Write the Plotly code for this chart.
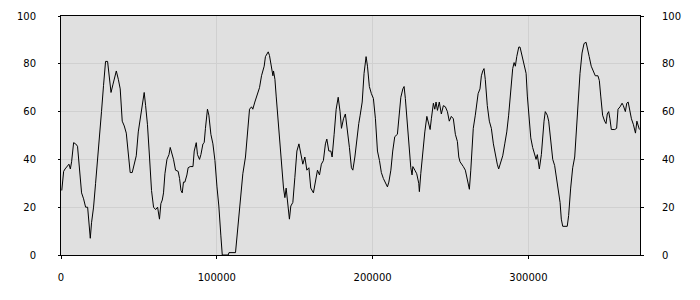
import plotly.graph_objects as go

x_vals = [500, 1700, 2600, 4200, 5100, 6000, 6800, 8100, 9400, 10600, 11900, 13200, 14500, 15800, 17100, 18000, 18800, 19600, 20900, 22200,
          23500, 24800, 26000, 27300, 28600, 29900, 30800, 31600, 32100, 33400, 34600, 35500, 36800, 38000, 39300, 40600, 41900, 43200, 44400, 45700,
          47000, 48300, 49600, 50900, 52100, 53400, 54300, 55500, 56800, 58100, 59400, 60700, 62000, 63200, 64100, 65000, 65800, 66700, 68000, 69300,
          70100, 70900, 72200, 73500, 75200, 76100, 77000, 77800, 78600, 79500, 80800, 81600, 82900, 84700, 85500, 86800, 87600, 88900, 89800, 91100,
          91900, 92700, 94000, 94900, 96200, 97500, 98800, 100100, 101300, 102600, 103500, 107300, 107800, 112000, 112900, 114200, 115500, 116700, 118400, 119700,
          121000, 122300, 123100, 124400, 125700, 127400, 128700, 130400, 131200, 133000, 133800, 135100, 136000, 136400, 137300, 138100, 138900, 140200, 141100, 141900,
          142800, 143700, 144500, 145300, 146600, 147500, 148800, 150100, 151400, 152700, 153900, 155200, 156500, 157800, 159100, 160300, 162000, 163300, 164600, 165900,
          167100, 168400, 169700, 170600, 171900, 173200, 174000, 175300, 176600, 177900, 179100, 180000, 181300, 182500, 183800, 185100, 186400, 187300, 188600, 189900,
          191100, 192000, 193300, 194500, 195800, 196700, 197900, 199200, 200500, 201800, 203100, 204400, 205600, 206900, 208200, 209500, 210400, 211700, 212900, 214200,
          215900, 216800, 218100, 219400, 220200, 221000, 222300, 223600, 224500, 225300, 225800, 227100, 228300, 229600, 230000, 230900, 232200, 233500, 234800, 236000,
          236900, 237700, 239000, 239900, 240700, 241600, 242800, 244100, 245400, 246700, 248000, 249200, 250500, 251800, 253100, 254400, 255300, 256100, 257400, 258200,
          259500, 260800, 262100, 263000, 263800, 264600, 265900, 266800, 267700, 268900, 269800, 270700, 271500, 272300, 273600, 274900, 276200, 277500, 278800, 280000,
          280900, 282200, 283500, 284800, 286100, 287300, 288200, 289000, 289900, 290800, 291600, 292500, 293800, 294600, 295900, 297200, 298500, 299300, 300200, 301500,
          302700, 304000, 304900, 305700, 307000, 308300, 309200, 310000, 310800, 312100, 313000, 314300, 315600, 316800, 318100, 319400, 320300, 321100, 322000, 324900,
          325800, 327100, 328400, 329700, 330500, 331300, 332200, 333100, 334400, 335700, 337000, 337800, 339000, 340300, 341600, 342900, 344600, 345500, 346400, 347600,
          348900, 349800, 350600, 351500, 352300, 353200, 355400, 356600, 357500, 358800, 360100, 360900, 362200, 363100, 364000, 365300, 366100, 367400, 368700, 369600,
          370400, 371200]

y_vals = [27, 35, 36, 37, 38, 36, 39, 47, 46.5, 45.5, 35, 26, 23.5, 20, 20, 11.5, 7, 13.5, 20, 30,
          39.5, 50, 60, 71, 81, 81, 75, 70, 68, 71.5, 75, 77, 73.5, 69.5, 56, 54, 51, 41, 34.5, 34.5,
          38, 41.5, 51.5, 57, 62.5, 68, 62.5, 54.5, 41, 27, 20, 19, 20, 15, 21.5, 23, 26, 34, 40, 42,
          45, 43, 40, 35.5, 35, 32, 27, 26, 30.5, 30.5, 33.5, 36.5, 37, 37, 43.5, 47, 42, 40, 42, 46.5,
          47, 53, 61, 58.5, 50.5, 46.5, 39.5, 28.5, 20.5, 8, 0, 0, 1, 1, 8, 16.5, 26, 34, 41, 51.5,
          61, 62, 61, 64, 66.5, 70, 75, 79, 83, 85, 83.5, 79, 75, 77, 73.5, 66.5, 60, 51.5, 42, 34,
          28, 24, 28, 23, 15, 20.5, 22, 32.5, 43.5, 46.5, 42, 38, 41, 35.5, 36.5, 28, 26, 30.5, 35.5, 33.5,
          38, 39.5, 46.5, 48.5, 43.5, 43.5, 41, 50.5, 61, 66, 60, 53, 57, 59, 53, 45, 36.5, 35.5, 41, 49,
          55, 58.5, 64, 76, 83, 79, 70.5, 67.5, 65.5, 57, 43.5, 39.5, 34.5, 32, 30, 28.5, 30.5, 35.5, 43.5, 49.5,
          50.5, 56, 66, 69.5, 70.5, 65.5, 54.5, 46.5, 36.5, 33.5, 37, 35.5, 34, 30, 26.5, 34, 43.5, 51.5, 58, 55,
          52.5, 57, 63.5, 61, 64, 60.5, 64, 59, 62.5, 62, 60, 56, 58, 57, 50.5, 47.5, 41, 39, 38, 37,
          35.5, 31.5, 27.5, 35.5, 45, 53, 58.5, 63.5, 67.5, 69.5, 75, 77, 78, 73.5, 62.5, 56, 53, 46.5, 41.5, 38,
          36, 39, 41.5, 46.5, 51.5, 58.5, 65.5, 70.5, 78, 80.5, 79, 83, 87, 87, 83, 79, 76, 66.5, 58.5, 49,
          45, 42, 40, 42, 36, 42, 50.5, 56, 60, 58.5, 56, 47.5, 40, 37.5, 31.5, 27, 22, 15, 12, 12,
          16.5, 28, 36.5, 41, 50.5, 60, 69.5, 76, 84.5, 88.5, 89, 87, 83, 79, 77, 75, 75, 73, 66.5, 58.5,
          56, 55, 59, 60, 57, 52.5, 52.5, 53, 61, 62, 63.5, 62.5, 60, 63.5, 64, 58.5, 57, 54.5, 51, 56,
          53.5, 52.5]

x_ticks = [0, 100000, 200000, 300000]
y_ticks = [0, 20, 40, 60, 80, 100]

font = dict(family="DejaVu Sans", size=10, color="#000000")

fig = go.Figure()
fig.add_trace(go.Scatter(x=x_vals, y=y_vals, mode="lines",
                         line=dict(color="#000000", width=1), showlegend=False))
fig.add_trace(go.Scatter(x=x_vals, y=y_vals, mode="lines", yaxis="y2",
                         line=dict(color="rgba(0,0,0,0)", width=0), showlegend=False,
                         hoverinfo="skip"))

fig.update_layout(
    width=700, height=300,
    margin=dict(l=61, r=60, t=10, b=45),
    paper_bgcolor="#ffffff",
    plot_bgcolor="#e0e0e0",
    font=font,
    xaxis=dict(range=[0, 371600], tickvals=x_ticks, ticktext=[str(v) for v in x_ticks],
               showgrid=True, gridcolor="#d0d0d0", gridwidth=1, zeroline=False,
               showline=True, linecolor="#000000", linewidth=1, mirror=True,
               ticks="outside", ticklen=3, tickcolor="#000000", tickfont=font,
               ticklabelstandoff=10),
    yaxis=dict(range=[0, 100], tickvals=y_ticks, showgrid=True, gridcolor="#d0d0d0",
               gridwidth=1, zeroline=False, showline=True, linecolor="#000000", linewidth=1,
               ticks="outside", ticklen=2, tickcolor="#000000", tickfont=font,
               ticklabelstandoff=20),
    yaxis2=dict(range=[0, 100], tickvals=y_ticks, overlaying="y", side="right",
                showgrid=False, zeroline=False, showline=True, linecolor="#000000",
                linewidth=1, ticks="outside", ticklen=3, tickcolor="#000000", tickfont=font,
                ticklabelstandoff=16),
)

fig.write_html("out.html")
